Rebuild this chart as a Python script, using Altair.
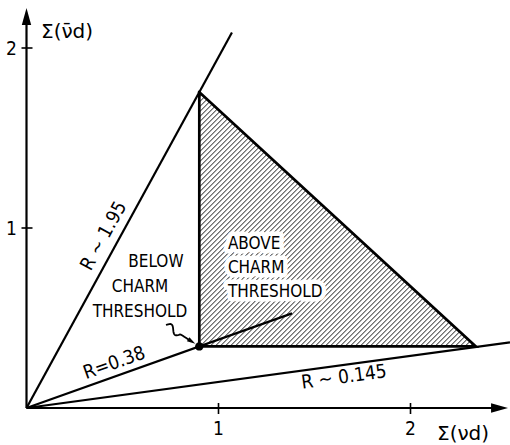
import math
import numpy as np
import pandas as pd
import altair as alt

# Ratio lines R = Σ(ν̄d) / Σ(νd) drawn out of the origin
R_LABELS = ["R ~ 1.95", "R=0.38", "R ~ 0.145"]
R_SLOPES = [1.95, 0.38, 0.145]
R_END_X = [1.07, 1.383, 2.518]
R_LABEL_AT_X = [0.47, 0.48, 1.645]

# Shaded region above charm threshold: top, lower-left, right corner
TRI_X = [0.90, 0.90, 2.34]
TRI_Y = [1.755, 0.342, 0.342]

# Threshold point on the R = 0.38 line
THRESH_X = 0.90
THRESH_Y = 0.342

X_TICKS = [1, 2]
Y_TICKS = [1, 2]

BELOW_LINES = ["BELOW", "CHARM", "THRESHOLD"]
BELOW_X = [0.674, 0.591, 0.591]
BELOW_Y = [0.811, 0.672, 0.533]

ABOVE_LINES = ["ABOVE", "CHARM", "THRESHOLD"]
ABOVE_X = [1.049, 1.049, 1.049]
ABOVE_Y = [0.911, 0.778, 0.644]

X_TITLE = "Σ(νd)"
Y_TITLE = "Σ(ν̄d)"

# ---------------------------------------------------------------- layout
W, H = 510, 445
PX_X, PX_Y = 192.0, 180.0      # pixels per unit
OX, OY = 26.5, 408.0           # origin on the canvas
AXIS_X_TIP = 2.508
AXIS_Y_TIP = 2.222
ARROW_LEN = 17.0

LETTERING = "Liberation Sans Narrow, DejaVu Sans Condensed, Arial Narrow, sans-serif"
PLAIN = "DejaVu Sans, Liberation Sans, sans-serif"

xs = alt.Scale(domain=[-OX / PX_X, (W - OX) / PX_X], range=[0, W], nice=False, zero=False)
ys = alt.Scale(domain=[(OY - H) / PX_Y, OY / PX_Y], range=[H, 0], nice=False, zero=False)


def X(f="x"):
    return alt.X(f"{f}:Q", scale=xs, axis=None)


def Y(f="y"):
    return alt.Y(f"{f}:Q", scale=ys, axis=None)


# ---------------------------------------------------------------- hatch
def hatch_segments(tx, ty, step_px=5.0):
    xl, yt = tx[0], ty[0]
    yb, xr = ty[1], tx[2]
    k = PX_X / PX_Y                       # 45 degree stripe on screen
    s = (yt - yb) / (xr - xl)             # falling edge slope
    rows = []
    for c in np.arange(xl - (yt - yb) / k + 1e-6, xr, step_px / PX_X):
        xa = max(xl, c)
        xb = (yt - yb + s * xl + k * c) / (k + s)
        if xb > xa:
            rows.append(dict(x=xa, y=yb + k * (xa - c), x2=xb, y2=yb + k * (xb - c)))
    return pd.DataFrame(rows)


hatch = alt.Chart(hatch_segments(TRI_X, TRI_Y)).mark_rule(
    color="#1a1a1a", strokeWidth=1
).encode(x=X(), y=Y(), x2="x2:Q", y2="y2:Q")

tri_df = pd.DataFrame({
    "x": TRI_X + [TRI_X[0]],
    "y": TRI_Y + [TRI_Y[0]],
    "o": [0, 1, 2, 3],
})
outline = alt.Chart(tri_df).mark_line(
    color="black", strokeWidth=2.7, strokeJoin="miter", strokeCap="square"
).encode(x=X(), y=Y(), order="o:Q")

# ---------------------------------------------------------------- ratio lines
r_df = pd.DataFrame({
    "x": [0.0] * 3, "y": [0.0] * 3,
    "x2": R_END_X, "y2": [r * e for r, e in zip(R_SLOPES, R_END_X)],
})
r_lines = alt.Chart(r_df).mark_rule(color="black", strokeWidth=2.2).encode(
    x=X(), y=Y(), x2="x2:Q", y2="y2:Q")

r_text = []
for lab, r, at, dy, base in zip(R_LABELS, R_SLOPES, R_LABEL_AT_X,
                                [-5, -3, 3], ["bottom", "bottom", "top"]):
    ang = math.degrees(math.atan(r * PX_Y / PX_X))
    d = pd.DataFrame({"x": [at], "y": [r * at], "t": [lab]})
    r_text.append(alt.Chart(d).mark_text(
        angle=360 - ang, align="center", baseline=base, dy=dy,
        font=LETTERING, fontSize=19, color="black"
    ).encode(x=X(), y=Y(), text="t:N"))

# ---------------------------------------------------------------- axes
axes_df = pd.DataFrame({
    "x": [0.0, 0.0], "y": [0.0, 0.0],
    "x2": [AXIS_X_TIP - 6 / PX_X, 0.0], "y2": [0.0, AXIS_Y_TIP - 6 / PX_Y],
})
axes = alt.Chart(axes_df).mark_rule(color="black", strokeWidth=2.2).encode(
    x=X(), y=Y(), x2="x2:Q", y2="y2:Q")

HEAD = "M0,-1L0.55,1L-0.55,1Z"
heads_df = pd.DataFrame({
    "x": [AXIS_X_TIP - ARROW_LEN / 2 / PX_X, 0.0],
    "y": [0.0, AXIS_Y_TIP - ARROW_LEN / 2 / PX_Y],
    "a": [90, 0],
})
heads = alt.Chart(heads_df).mark_point(
    shape=HEAD, filled=True, color="black", opacity=1, size=ARROW_LEN ** 2, strokeWidth=0
).encode(x=X(), y=Y(), angle=alt.Angle("a:Q", scale=None))

xt = alt.Chart(pd.DataFrame({"x": X_TICKS, "y": [0.0] * 2})).mark_rule(
    color="black", strokeWidth=1.6, yOffset=-5, y2Offset=6
).encode(x=X(), y=Y(), y2="y:Q")
yt = alt.Chart(pd.DataFrame({"x": [0.0] * 2, "y": Y_TICKS})).mark_rule(
    color="black", strokeWidth=1.6, xOffset=-5, x2Offset=6
).encode(x=X(), y=Y(), x2="x:Q")

xt_lab = alt.Chart(pd.DataFrame({"x": X_TICKS, "y": [0.0] * 2, "t": [str(v) for v in X_TICKS]})).mark_text(
    font=LETTERING, fontSize=19, dy=21, baseline="middle", color="black"
).encode(x=X(), y=Y(), text="t:N")
yt_lab = alt.Chart(pd.DataFrame({"x": [0.0] * 2, "y": Y_TICKS, "t": [str(v) for v in Y_TICKS]})).mark_text(
    font=LETTERING, fontSize=19, dx=-15, dy=1, baseline="middle", color="black"
).encode(x=X(), y=Y(), text="t:N")

# axis titles, baseline-anchored so the lower one stays inside the canvas
titles = alt.Chart(pd.DataFrame({
    "x": [(437 - OX) / PX_X, (41 - OX) / PX_X],
    "y": [(OY - 440) / PX_Y, (OY - 38) / PX_Y],
    "t": [X_TITLE, Y_TITLE],
})).mark_text(font=PLAIN, fontSize=20, align="left", baseline="alphabetic", color="black").encode(
    x=X(), y=Y(), text="t:N")

# ---------------------------------------------------------------- region labels
below = alt.Chart(pd.DataFrame({"x": BELOW_X, "y": BELOW_Y, "t": BELOW_LINES})).mark_text(
    font=LETTERING, fontSize=17, align="center", baseline="middle", color="black"
).encode(x=X(), y=Y(), text="t:N")

above_df = pd.DataFrame({"x": ABOVE_X, "y": ABOVE_Y, "t": ABOVE_LINES})
above_halo = alt.Chart(above_df).mark_text(
    font=LETTERING, fontSize=17, align="left", baseline="middle",
    color="white", stroke="white", strokeWidth=9, strokeJoin="round"
).encode(x=X(), y=Y(), text="t:N")
above = alt.Chart(above_df).mark_text(
    font=LETTERING, fontSize=17, align="left", baseline="middle", color="black"
).encode(x=X(), y=Y(), text="t:N")

# ---------------------------------------------------------------- pointer to threshold
P0 = np.array([166.0, 325.0])                       # start of the wavy pointer (px)
P1 = np.array([OX + THRESH_X * PX_X, OY - THRESH_Y * PX_Y])
d = P1 - P0
u = d / np.linalg.norm(d)
tip = P1 - 5 * u
n = np.array([u[1], -u[0]])
tt = np.linspace(0, 1, 40)
pts = []
for t in tt:
    p = P0 + t * (tip - 6 * u - P0)
    if t < 0.6:
        p = p + n * 3.5 * math.sin(2 * math.pi * t / 0.6)
    pts.append(p)
pts = np.array(pts)
wave_df = pd.DataFrame({
    "x": (pts[:, 0] - OX) / PX_X, "y": (OY - pts[:, 1]) / PX_Y, "o": np.arange(len(pts))})
wave = alt.Chart(wave_df).mark_line(color="black", strokeWidth=1.8).encode(
    x=X(), y=Y(), order="o:Q")
hc = tip - 4 * u
ptr_head = alt.Chart(pd.DataFrame({
    "x": [(hc[0] - OX) / PX_X], "y": [(OY - hc[1]) / PX_Y],
    "a": [90 + math.degrees(math.atan2(u[1], u[0]))]})).mark_point(
    shape=HEAD, filled=True, color="black", opacity=1, size=72, strokeWidth=0
).encode(x=X(), y=Y(), angle=alt.Angle("a:Q", scale=None))

dot = alt.Chart(pd.DataFrame({"x": [THRESH_X], "y": [THRESH_Y]})).mark_circle(
    color="black", opacity=1, size=70).encode(x=X(), y=Y())

chart = alt.layer(
    hatch, above_halo, outline, r_lines, axes, heads, xt, yt, xt_lab, yt_lab,
    titles, *r_text, below, above, wave, ptr_head, dot
).properties(
    width=W, height=H, padding=0,
    autosize=alt.AutoSizeParams(type="none"),
    background="white",
).configure_view(stroke=None)

chart.save("out.html", embed_options={"renderer": "svg", "actions": False})
